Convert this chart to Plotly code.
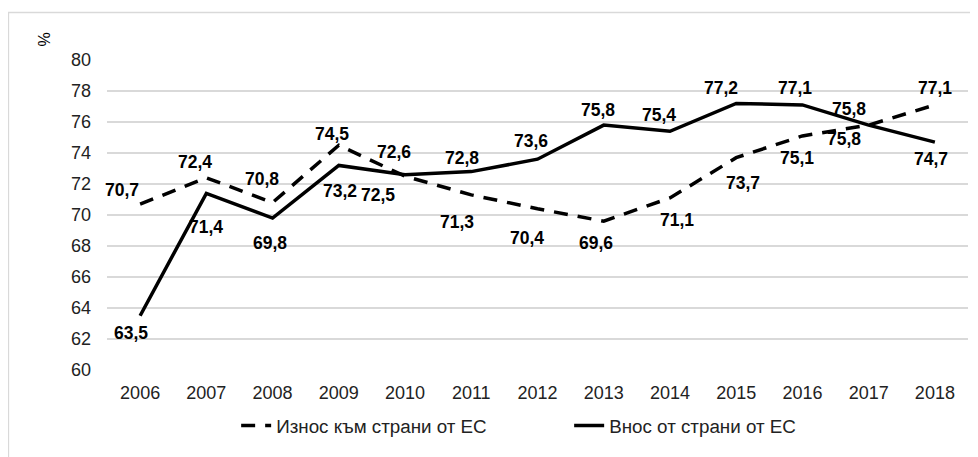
import plotly.graph_objects as go

years = [2006, 2007, 2008, 2009, 2010, 2011, 2012, 2013, 2014, 2015, 2016, 2017, 2018]
export_eu = [70.7, 72.4, 70.8, 74.5, 72.5, 71.3, 70.4, 69.6, 71.1, 73.7, 75.1, 75.8, 77.1]
import_eu = [63.5, 71.4, 69.8, 73.2, 72.6, 72.8, 73.6, 75.8, 75.4, 77.2, 77.1, 75.8, 74.7]
y_ticks = [60, 62, 64, 66, 68, 70, 72, 74, 76, 78, 80]

# label offsets in px (xshift, yshift), picked to mimic the excel auto placement
export_off = [(-18, 14), (-11, 16), (-11, 24), (-7, 11), (-27, -19), (-14, -27), (-11, -29),
              (-8, -22), (7, -22), (7, -25), (-5, -22), (-25, -14), (0, 17)]
import_off = [(-9, -17), (0, -34), (-3, -25), (1, -26), (-11, 23), (-9, 14), (-7, 18),
              (-6, 15), (-11, 16), (-15, 15), (-7, 17), (-20, 16), (-4, -17)]

FONT = "Liberation Sans, Arial, sans-serif"

fig = go.Figure()
fig.add_trace(go.Scatter(x=years, y=export_eu, mode="lines", name="Износ към страни от ЕС",
                         line=dict(color="black", width=3.5, dash="14px,10px")))
fig.add_trace(go.Scatter(x=years, y=import_eu, mode="lines", name="Внос от страни от ЕС",
                         line=dict(color="black", width=3.5)))

#data labels with decimal comma
for vals, offs in [(export_eu, export_off), (import_eu, import_off)]:
    for yr, v, (dx, dy) in zip(years, vals, offs):
        fig.add_annotation(x=yr, y=v, text="<b>" + str(v).replace(".", ",") + "</b>",
                           showarrow=False, xshift=dx, yshift=dy,
                           font=dict(family=FONT, size=17.5, color="black"))

# % unit label
fig.add_annotation(xref="paper", yref="paper", x=(33 - 107) / 861, y=(370 - 31) / 310,
                   text="%", textangle=-90, showarrow=False,
                   font=dict(family=FONT, size=16, color="black"))

# outer chart frame (runs off the right and bottom of the picture)
fig.add_shape(type="rect", xref="paper", yref="paper",
              x0=(8.5 - 107) / 861, x1=1.2, y0=-0.5, y1=(370 - 12.5) / 310,
              line=dict(color="#d9d9d9", width=1.3), fillcolor="rgba(0,0,0,0)", layer="below")

fig.update_xaxes(tickmode="array", tickvals=years, ticktext=[str(y) for y in years],
                 range=[2005.5, 2018.5], showgrid=False, zeroline=False, showline=False,
                 ticks="", tickfont=dict(family=FONT, size=18, color="#222"), ticklabelstandoff=10,
                 automargin=False)
fig.update_yaxes(tickmode="array", tickvals=y_ticks, range=[60, 80], showgrid=True,
                 gridcolor="#d9d9d9", gridwidth=1.6, zeroline=False, showline=False, ticks="",
                 tickfont=dict(family=FONT, size=18, color="#222"), ticklabelstandoff=15,
                 automargin=False)

# page body has an 8px margin, so the figure is 8px smaller and shifted
fig.update_layout(
    width=970, height=449,
    margin=dict(l=99, r=10, t=52, b=87, autoexpand=False),
    paper_bgcolor="white", plot_bgcolor="white",
    showlegend=True, hovermode=False,
    legend=dict(orientation="h", x=0.15, xanchor="left", y=-0.18, yanchor="middle",
                font=dict(family=FONT, size=18.8, color="#222"), entrywidth=288,
                entrywidthmode="pixels", bgcolor="rgba(0,0,0,0)"),
)

fig.write_html("out.html")
